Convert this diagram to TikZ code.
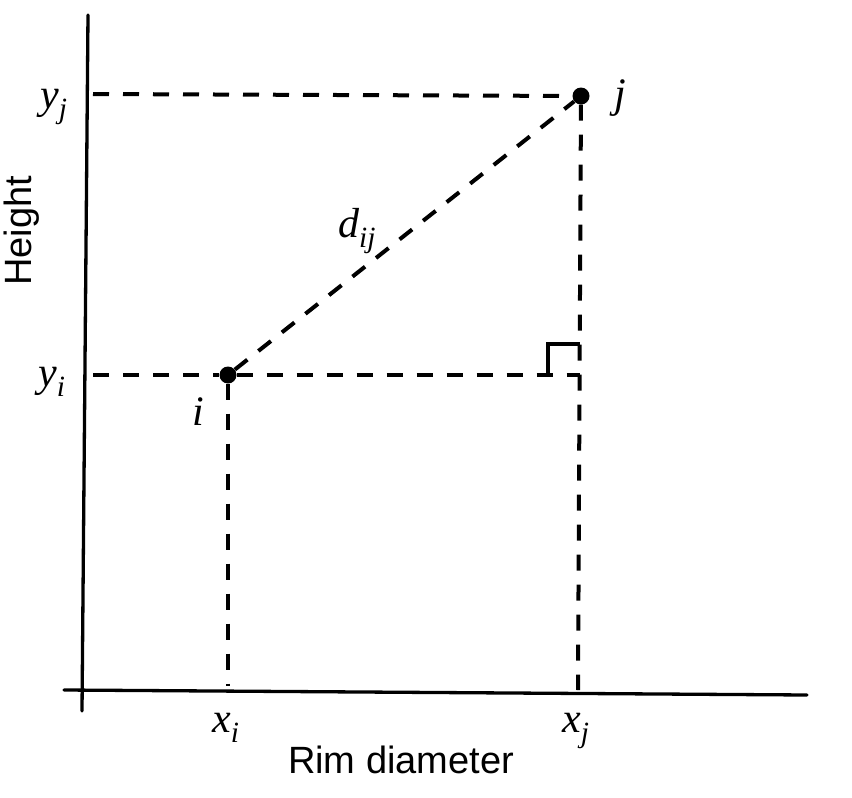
\documentclass[tikz,border=0pt]{standalone}
\usepackage{fontspec}
\setmainfont{Liberation Serif}
\setsansfont{Liberation Sans}
\begin{document}
\begin{tikzpicture}[x=1pt,y=-1pt,
  axis/.style={line width=3.3pt, line cap=round},
  guide/.style={line width=4pt, dash pattern=on 16pt off 14pt},
  dot/.style={circle, fill, inner sep=0pt, minimum size=17pt},
  lab/.style={font=\fontsize{42}{50}\selectfont\itshape, inner sep=0pt, anchor=base},
  title/.style={font=\sffamily\fontsize{38}{46}\selectfont, inner sep=0pt}]
\useasboundingbox (0,0) rectangle (852,798);
% axes
\coordinate (yaxTop) at (88,15);
\coordinate (yaxBot) at (82,711);
\coordinate (xaxL) at (64,690);
\coordinate (xaxR) at (807,695);
\draw[axis] (yaxTop) -- (yaxBot);
\draw[axis] (xaxL) -- (xaxR);
% points
\node[dot] (i) at (228,375) {};
\node[dot] (j) at (581,96) {};
% guide end points
\coordinate (yjA) at (93,94);
\coordinate (yiA) at (93,375);
\coordinate (xiA) at (228,686);
\coordinate (xjA) at (578,690);
\coordinate (foot) at (580,375);
\coordinate (sqA) at (548,375);
\coordinate (sqB) at (548,344);
\coordinate (sqC) at (580,344);
% dashed guides
\draw[guide] (yjA) -- (j);
\draw[guide] (yiA) -- (i);
\draw[guide] (i) -- (foot);
\draw[guide] (i) -- (xiA);
\draw[guide] (j) -- (xjA);
\draw[guide] (i) -- (j);
% right angle mark
\draw[line width=3.3pt] (sqA) -- (sqB) -- (sqC);
% labels
\node[lab] (lyj) at (54,108) {y\textsubscript{j}};
\node[lab] (lyi) at (52,386) {y\textsubscript{i}};
\node[lab] (li) at (198,425) {i};
\node[lab] (lj) at (620,107) {j};
\node[lab] (ld) at (357,237) {d\textsubscript{ij}};
\node[lab] (lxi) at (226,732) {x\textsubscript{i}};
\node[lab] (lxj) at (576,732) {x\textsubscript{j}};
\node[title, anchor=base] (lx) at (401,773) {Rim diameter};
\node[title, rotate=90] (ly) at (22,231) {Height};
\end{tikzpicture}
\end{document}
